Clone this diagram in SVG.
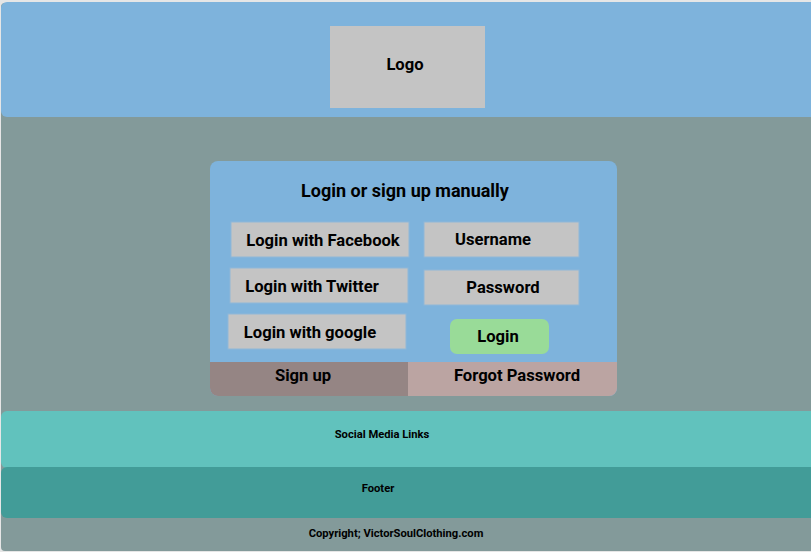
<svg xmlns="http://www.w3.org/2000/svg" width="811" height="552" viewBox="0 0 811 552">
<style>
text{font-family:Roboto,"Liberation Sans",sans-serif;font-weight:bold;fill:#000;text-anchor:middle;dominant-baseline:central}
.btn{fill:#c4c4c4;stroke:#8fb8d8;stroke-width:1}
.b{font-size:16.6px}
.s{font-size:11.2px}
</style>
<rect x="0" y="0" width="811" height="552" fill="#e6e6e6"/>
<rect x="1" y="3" width="812" height="548" rx="4" fill="#839a9a"/>
<g id="header">
<rect x="1" y="2" width="815" height="115" rx="6" fill="#7eb3dc"/>
</g>
<g id="logo">
<rect x="330" y="26" width="155" height="82" fill="#c4c4c4"/>
<text x="405" y="64" class="b">Logo</text>
</g>
<g id="login-panel">
<rect x="210" y="161" width="407" height="235" rx="8" fill="#7eb3dc"/>
<text x="405" y="190" style="font-size:18px">Login or sign up manually</text>
</g>
<g id="signup">
<path d="M210 362 H408 V396 H218 A8 8 0 0 1 210 388 Z" fill="#958584"/>
<text x="303" y="375" class="b">Sign up</text>
</g>
<g id="forgot">
<path d="M408 362 H617 V388 A8 8 0 0 1 609 396 H408 Z" fill="#bba4a2"/>
<text x="517" y="375" class="b">Forgot Password</text>
</g>
<g id="facebook">
<rect x="231" y="222" width="178" height="35" class="btn"/>
<text x="323" y="240" class="b">Login with Facebook</text>
</g>
<g id="twitter">
<rect x="230" y="268" width="178" height="35" class="btn"/>
<text x="312" y="286" class="b">Login with Twitter</text>
</g>
<g id="google">
<rect x="228" y="314" width="178" height="35" class="btn"/>
<text x="310" y="332" class="b">Login with google</text>
</g>
<g id="username">
<rect x="424" y="222" width="155" height="35" class="btn"/>
<text x="493" y="239" class="b">Username</text>
</g>
<g id="password">
<rect x="424" y="270" width="155" height="35" class="btn"/>
<text x="503" y="287" class="b">Password</text>
</g>
<g id="login">
<rect x="450" y="319" width="99" height="35" rx="7" fill="#99db98"/>
<text x="498" y="336" class="b">Login</text>
</g>
<g id="social">
<rect x="1" y="411" width="815" height="57" rx="6" fill="#61c2bd"/>
<text x="382" y="434" class="s">Social Media Links</text>
</g>
<g id="footer">
<rect x="1" y="467" width="815" height="51" rx="6" fill="#429c98"/>
<text x="378" y="488" class="s">Footer</text>
</g>
<g id="copyright">
<text x="396" y="533" class="s">Copyright; VictorSoulClothing.com</text>
</g>
<g id="connectors"/>
</svg>
